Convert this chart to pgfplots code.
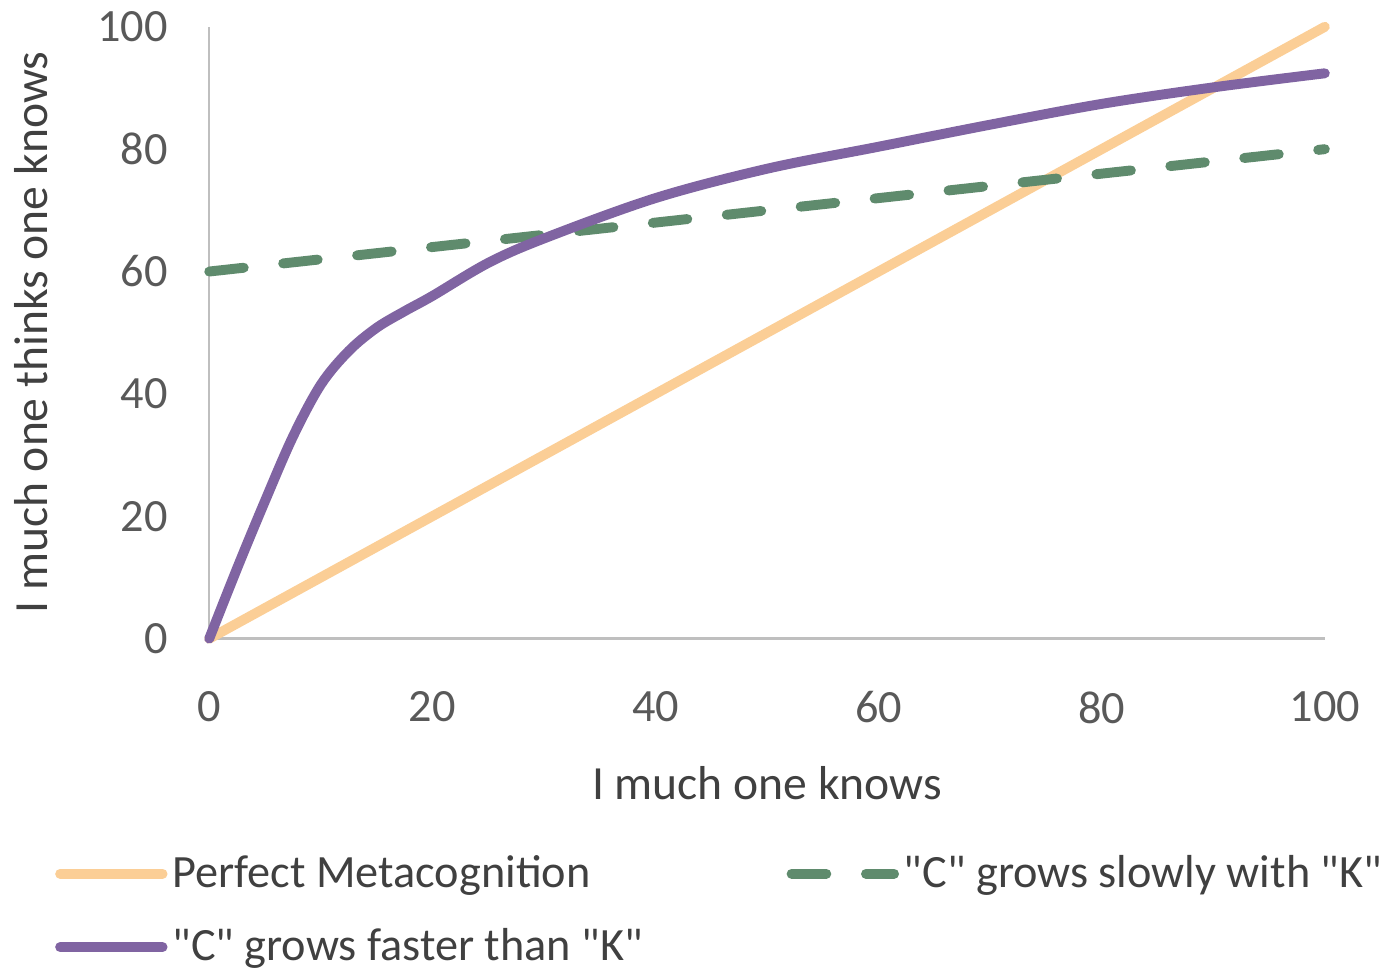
\documentclass[border=0pt]{standalone}
\usepackage{pgfplots}
\pgfplotsset{compat=1.18}
\usepackage{fontspec}
\setmainfont{Carlito}
\definecolor{peach}{HTML}{FBCE96}
\definecolor{violet}{HTML}{8064A2}
\definecolor{sage}{HTML}{5F8B6D}
\definecolor{axisgray}{HTML}{BFBFBF}
\definecolor{ticktext}{HTML}{595959}
\definecolor{labeltext}{HTML}{404040}
\newcommand{\q}{\textquotedbl}
\begin{document}
\begin{tikzpicture}
\begin{axis}[
  name=ax,
  scale only axis,
  width=337.5pt, height=185.1pt,
  xmin=0, xmax=100, ymin=0, ymax=100,
  xtick={0,20,...,100}, ytick={0,20,...,100},
  axis x line*=bottom, axis y line*=left,
  axis line style={draw=axisgray, line width=0.7pt},
  major tick length=0pt,
  tick label style={font=\fontsize{14}{16}\selectfont, text=ticktext},
  /pgf/number format/assume math mode=true,
  xticklabel style={yshift=-12.5pt},
  yticklabel style={xshift=-9pt},
  xlabel={I much one knows},
  ylabel={I much one thinks one knows},
  label style={font=\fontsize{14.4}{17}\selectfont, text=labeltext},
  xlabel style={yshift=-6pt},
  ylabel style={yshift=8pt},
  clip=false,
  legend columns=2,
  legend cell align=left,
  legend style={
    at={(-0.1387,-0.342)}, anchor=north west,
    draw=none, fill=none, inner sep=0pt,
    font=\fontsize{14}{17}\selectfont, text=labeltext,
    nodes={inner xsep=1.5pt},
    row sep=7pt,
    /tikz/every even column/.append style={column sep=42pt},
  },
  legend image code/.code={\draw[#1] (0pt,0pt) -- (31pt,0pt);},
]
\addplot[peach, line width=3pt, line cap=round] coordinates {(0,0) (100,100)};
\addlegendentry{Perfect Metacognition}
\addplot[sage, line width=3pt, line cap=round, dash pattern=on 10.5pt off 12pt] coordinates {(0,60) (100,80)};
\addlegendentry{\q C\q{} grows slowly with \q K\q}
\addplot[violet, line width=3pt, line cap=round, smooth, tension=0.55] coordinates {
  (0,0) (2.5,11.5) (5,22.5) (7.5,33) (10,41.5) (12.5,47) (15,50.8)
  (17.5,53.5) (20,56) (25,61.4) (30,65.4) (40,72) (50,76.8) (60,80.4)
  (70,84) (80,87.4) (90,90.1) (100,92.4)};
\addlegendentry{\q C\q{} grows faster than \q K\q}
\end{axis}
\path (ax.south west) ++(-63.3pt,-98.4pt);
\path (ax.north east) ++(15.3pt,8.1pt);
\end{tikzpicture}
\end{document}
